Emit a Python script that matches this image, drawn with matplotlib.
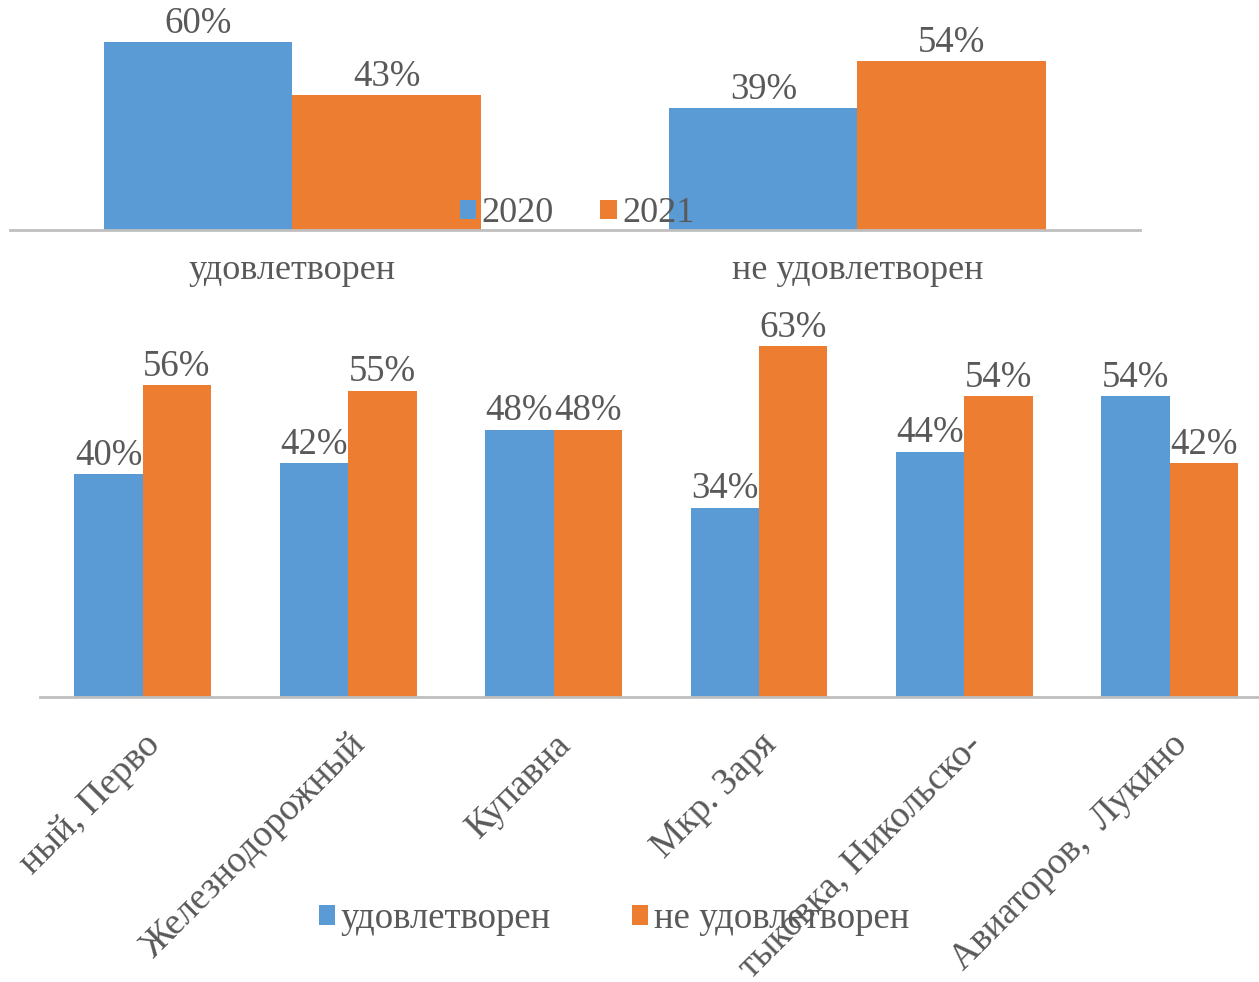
"""Two grouped bar charts: satisfaction 2020 vs 2021 and by district."""

import matplotlib.pyplot as plt
import numpy as np

# top chart
top_categories = ["удовлетворен", "не удовлетворен"]
top_2020 = [60, 39]
top_2021 = [43, 54]
top_series = ["2020", "2021"]

# bottom chart
districts = ["ный, Перво", "Железнодорожный", "Купавна", "Мкр. Заря",
             "тыковка, Никольско-", "Авиаторов,  Лукино"]
satisfied = [40, 42, 48, 34, 44, 54]
not_satisfied = [56, 55, 48, 63, 54, 42]
bottom_series = ["удовлетворен", "не удовлетворен"]

BLUE = "#5B9BD5"
ORANGE = "#ED7D31"
TEXT = "#595959"
AXIS = "#BFBFBF"

plt.rcParams.update({
    "font.family": ["Liberation Serif", "DejaVu Serif"],
    "font.size": 26,
    "text.color": TEXT,
    "xtick.color": TEXT,
})


def grouped(ax, categories, first, second, labels, width, rotation=0):
    x = np.arange(len(categories))
    b1 = ax.bar(x - width / 2, first, width, color=BLUE, label=labels[0])
    b2 = ax.bar(x + width / 2, second, width, color=ORANGE, label=labels[1])
    for bars in (b1, b2):
        ax.bar_label(bars, labels=[f"{v}%" for v in bars.datavalues], padding=1,
                     color=TEXT, fontsize=26.5)
    for side in ("top", "left", "right"):
        ax.spines[side].set_visible(False)
    ax.spines["bottom"].set_color(AXIS)
    ax.spines["bottom"].set_linewidth(2)
    ax.set_yticks([])
    ax.set_xlim(-0.5, len(categories) - 0.5)
    ax.set_ylim(0, 70)
    ax.tick_params(axis="x", length=0)
    if rotation:
        ax.set_xticks(x, categories, rotation=rotation, ha="right",
                      rotation_mode="anchor", fontsize=27)
        ax.tick_params(axis="x", pad=22)
    else:
        ax.set_xticks(x, categories)
        ax.tick_params(axis="x", pad=17)
    return ax


fig = plt.figure(figsize=(12.59, 9.82), dpi=100)

ax_top = fig.add_axes([0.0079, 0.7658, 0.8975, 0.223])
grouped(ax_top, top_categories, top_2020, top_2021, top_series, 0.333)
ax_top.legend(loc="center", bbox_to_anchor=(577 / 1259, 1 - 214 / 982),
              bbox_transform=fig.transFigure, ncol=2, frameon=False,
              handlelength=0.45, handleheight=0.45, handletextpad=0.15,
              columnspacing=1.3, fontsize=26, borderpad=0)

ax_bot = fig.add_axes([0.0318, 0.2902, 0.979, 0.3972])
grouped(ax_bot, districts, satisfied, not_satisfied, bottom_series, 0.333, rotation=45)
ax_bot.legend(loc="center", bbox_to_anchor=(614 / 1259, 1 - 919 / 982),
              bbox_transform=fig.transFigure, ncol=2, frameon=False,
              handlelength=0.45, handleheight=0.45, handletextpad=0.15,
              columnspacing=2.2, fontsize=26.5, borderpad=0)

fig.savefig("out.png", dpi=100)
